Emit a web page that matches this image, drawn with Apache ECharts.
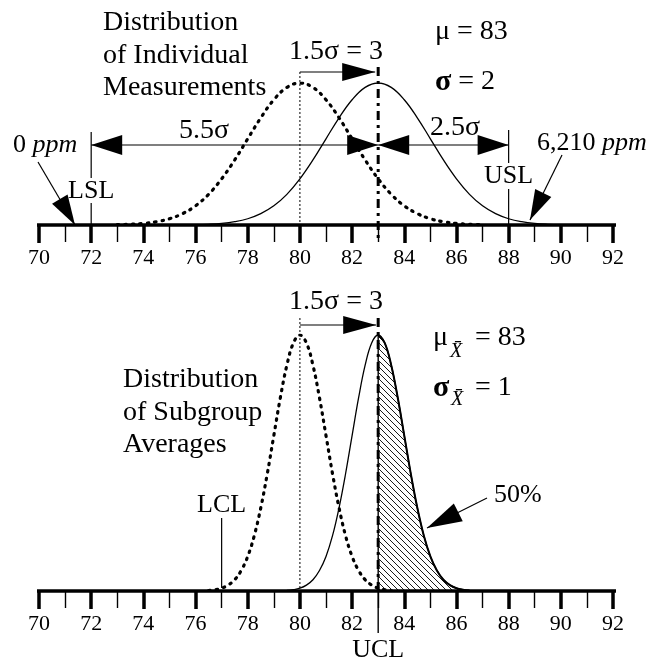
<!DOCTYPE html>
<html><head><meta charset="utf-8">
<script src="https://cdn.jsdelivr.net/npm/echarts@6/dist/echarts.min.js"></script>
<style>html,body{margin:0;padding:0;background:#fff}#c{width:647px;height:663px}</style>
</head><body><div id="c"></div>
<script>
// ---------- DATA ----------
const tickLabels = ['70','72','74','76','78','80','82','84','86','88','90','92'];
const axisMin = 70, axisMax = 92;
const axisLineFrom = 69.5, axisLineTo = 92.65;
const LSL = 72, USL = 88, LCL = 77, UCL = 83;
const meanBefore = 80, meanAfter = 83;

// top panel: individual measurements (sigma = 2), heights relative to peak
const topDottedX = [73,73.5,74,74.5,75,75.5,76,76.5,77,77.5,78,78.5,79,79.5,80,80.5,81,81.5,82,82.5,83,83.5,84,84.5,85,85.5,86,86.5,87];
const topDottedY = [0.002,0.005,0.011,0.023,0.044,0.080,0.135,0.216,0.325,0.458,0.607,0.755,0.882,0.969,1,0.969,0.882,0.755,0.607,0.458,0.325,0.216,0.135,0.080,0.044,0.023,0.011,0.005,0.002];
const topSolidX = [76,76.5,77,77.5,78,78.5,79,79.5,80,80.5,81,81.5,82,82.5,83,83.5,84,84.5,85,85.5,86,86.5,87,87.5,88,88.5,89,89.5,90];
const topSolidY = [0.002,0.005,0.011,0.023,0.044,0.080,0.135,0.216,0.325,0.458,0.607,0.755,0.882,0.969,1,0.969,0.882,0.755,0.607,0.458,0.325,0.216,0.135,0.080,0.044,0.023,0.011,0.005,0.002];

// bottom panel: subgroup averages (sigma = 1)
const bottomDottedX = [76.5,76.75,77,77.25,77.5,77.75,78,78.25,78.5,78.75,79,79.25,79.5,79.75,80,80.25,80.5,80.75,81,81.25,81.5,81.75,82,82.25,82.5,82.75,83,83.25,83.5];
const bottomDottedY = [0.002,0.005,0.011,0.023,0.044,0.080,0.135,0.216,0.325,0.458,0.607,0.755,0.882,0.969,1,0.969,0.882,0.755,0.607,0.458,0.325,0.216,0.135,0.080,0.044,0.023,0.011,0.005,0.002];
const bottomSolidX = [79.5,79.75,80,80.25,80.5,80.75,81,81.25,81.5,81.75,82,82.25,82.5,82.75,83,83.25,83.5,83.75,84,84.25,84.5,84.75,85,85.25,85.5,85.75,86,86.25,86.5];
const bottomSolidY = [0.002,0.005,0.011,0.023,0.044,0.080,0.135,0.216,0.325,0.458,0.607,0.755,0.882,0.969,1,0.969,0.882,0.755,0.607,0.458,0.325,0.216,0.135,0.080,0.044,0.023,0.011,0.005,0.002];

// ---------- BUILD ----------
const pairs = (xs, ys) => xs.map((x, i) => [x, ys[i]]);
const hatchData = pairs(bottomSolidX, bottomSolidY).filter(p => p[0] >= UCL);

const serif = '"Liberation Serif","Times New Roman",serif';
const black = '#000';

const pc = document.createElement('canvas'); pc.width = 6; pc.height = 6;
const g = pc.getContext('2d'); g.strokeStyle = '#000'; g.lineWidth = 0.9;
g.beginPath(); g.moveTo(-1,-1); g.lineTo(7,7); g.moveTo(-1,5); g.lineTo(1,7); g.moveTo(5,-1); g.lineTo(7,1); g.stroke();

const chart = echarts.init(document.getElementById('c'), null, {renderer: 'canvas'});

function xAxis(gi) {
  return {
    gridIndex: gi, type: 'value', min: axisMin, max: axisMax, interval: 2,
    axisLine: {show: false},
    axisTick: {show: true, length: 18, lineStyle: {color: black, width: 3.5}},
    minorTick: {show: true, splitNumber: 2, length: 17, lineStyle: {color: black, width: 1.4}},
    splitLine: {show: false}, minorSplitLine: {show: false},
    axisLabel: {
      margin: 22, fontFamily: serif, fontSize: 22, color: black,
      formatter: v => tickLabels.includes(String(v)) ? String(v) : ''
    }
  };
}
function yAxis(gi) { return {gridIndex: gi, type: 'value', min: 0, max: 1, show: false}; }

const dotStyle = {color: black, width: 3.2, type: [1.5, 6], cap: 'round'};
const solidStyle = {color: black, width: 1.3};
const base = {type: 'line', symbol: 'none', smooth: 0.4, silent: true};

chart.setOption({
  animation: false,
  backgroundColor: '#fff',
  grid: [
    {left: 39, right: 34, top: 83, height: 142},
    {left: 39, right: 34, top: 335, height: 256}
  ],
  xAxis: [xAxis(0), xAxis(1)],
  yAxis: [yAxis(0), yAxis(1)],
  series: [
    Object.assign({}, base, {xAxisIndex: 0, yAxisIndex: 0, data: pairs(topDottedX, topDottedY), lineStyle: dotStyle}),
    Object.assign({}, base, {xAxisIndex: 0, yAxisIndex: 0, data: pairs(topSolidX, topSolidY), lineStyle: solidStyle}),
    Object.assign({}, base, {xAxisIndex: 1, yAxisIndex: 1, data: hatchData, lineStyle: {color: black, width: 2},
      areaStyle: {color: {image: pc, repeat: 'repeat'}, opacity: 1}}),
    Object.assign({}, base, {xAxisIndex: 1, yAxisIndex: 1, data: pairs(bottomDottedX, bottomDottedY), lineStyle: dotStyle}),
    Object.assign({}, base, {xAxisIndex: 1, yAxisIndex: 1, data: pairs(bottomSolidX, bottomSolidY), lineStyle: solidStyle}),
    {type: 'line', symbol: 'none', xAxisIndex: 0, yAxisIndex: 0, clip: false, z: 5,
      data: [[axisLineFrom, 0], [axisLineTo, 0]], lineStyle: {color: black, width: 3.5}},
    {type: 'line', symbol: 'none', xAxisIndex: 1, yAxisIndex: 1, clip: false, z: 5,
      data: [[axisLineFrom, 0], [axisLineTo, 0]], lineStyle: {color: black, width: 3.5}}
  ]
});

// ---------- ANNOTATIONS ----------
const X0 = v => chart.convertToPixel({xAxisIndex: 0}, v);
const X1 = v => chart.convertToPixel({xAxisIndex: 1}, v);
const els = [];
function text(x, y, t, o) {
  o = o || {};
  els.push({type: 'text', x: x, y: y, z: 10, style: Object.assign({
    text: t, fontFamily: serif, fontSize: 26, fill: black,
    align: o.align || 'left', verticalAlign: 'middle',
    rich: {
      i: {fontFamily: serif, fontSize: 26, fontStyle: 'italic'},
      b: {fontFamily: serif, fontSize: 30, fontWeight: 'bold'}
    }
  }, o.style || {})});
}
function line(x1, y1, x2, y2, w, dash) {
  els.push({type: 'line', z: 10, shape: {x1, y1, x2, y2}, style: {stroke: black, lineWidth: w || 1.2, lineDash: dash || null}});
}
function head(tx, ty, fx, fy, len, hw) {
  const dx = tx - fx, dy = ty - fy, L = Math.hypot(dx, dy), ux = dx / L, uy = dy / L;
  const bx = tx - ux * len, by = ty - uy * len;
  els.push({type: 'polygon', z: 10, shape: {points: [[tx, ty], [bx - uy * hw, by + ux * hw], [bx + uy * hw, by - ux * hw]]}, style: {fill: black}});
}
function arrow(fx, fy, tx, ty, len, hw) { line(fx, fy, tx, ty, 1.2); head(tx, ty, fx, fy, len, hw); }

const big = {style: {fontSize: 28}};
const bigC = {align: 'center', style: {fontSize: 28}};

// --- top panel
text(103, 23, 'Distribution', big);
text(103, 55.5, 'of Individual', big);
text(103, 88, 'Measurements', big);
text(336, 52, '1.5σ = 3', bigC);
text(435, 32, 'μ = 83', big);
text(435, 82, '{b|σ} = 2', big);
text(204, 131, '5.5σ', bigC);
text(455, 128, '2.5σ', bigC);
text(13, 145, '0 {i|ppm}');
text(537, 143, '6,210 {i|ppm}');
text(X0(LSL), 191, 'LSL', {align: 'center'});
text(X0(USL), 176, 'USL', {align: 'center'});

line(X0(meanBefore), 72, X0(meanBefore), 225, 1, [2, 2]);
arrow(X0(meanBefore), 72, X0(meanAfter) - 3, 72, 33, 9);
line(X0(meanAfter), 67, X0(meanAfter), 243, 3, [9, 5, 3, 5]);
line(X0(LSL), 145, X0(USL), 145, 1.2);
head(X0(LSL), 145, X0(LSL) + 10, 145, 31, 10);
head(X0(meanAfter), 145, X0(meanAfter) - 10, 145, 31, 10);
head(X0(meanAfter), 145, X0(meanAfter) + 10, 145, 31, 10);
head(X0(USL), 145, X0(USL) - 10, 145, 31, 10);
line(X0(LSL), 132, X0(LSL), 178, 1.2);
line(X0(LSL), 203, X0(LSL), 225, 1.2);
line(X0(USL), 130, X0(USL), 163, 1.2);
line(X0(USL), 189, X0(USL), 225, 1.2);
arrow(38, 162, 75, 225, 30, 9);
arrow(562, 155, 530, 220, 30, 9);

// --- bottom panel
text(336, 302, '1.5σ = 3', bigC);
line(X1(meanBefore), 318, X1(meanBefore), 591, 1, [2, 2]);
arrow(X1(meanBefore), 325, X1(meanAfter) - 2, 325, 33, 9);
line(X1(UCL), 318, X1(UCL), 591, 3, [9, 5, 3, 5]);
line(X1(UCL), 335, X1(UCL), 633, 1.4);
text(433, 338, 'μ', big);
text(450, 352, 'X̄', {style: {fontSize: 20, fontStyle: 'italic'}});
text(475, 338, '= 83', big);
text(433, 388, '{b|σ}', big);
text(451, 400, 'X̄', {style: {fontSize: 20, fontStyle: 'italic'}});
text(475, 388, '= 1', big);
text(123, 380, 'Distribution', big);
text(123, 413, 'of Subgroup', big);
text(123, 445, 'Averages', big);
text(X1(LCL), 505, 'LCL', {align: 'center'});
line(X1(LCL), 518, X1(LCL), 588, 1.2);
text(494, 495, '50%');
arrow(487, 498, 427, 528, 35, 10);
text(X1(UCL), 650, 'UCL', {align: 'center'});

chart.setOption({graphic: els});
</script></body></html>
